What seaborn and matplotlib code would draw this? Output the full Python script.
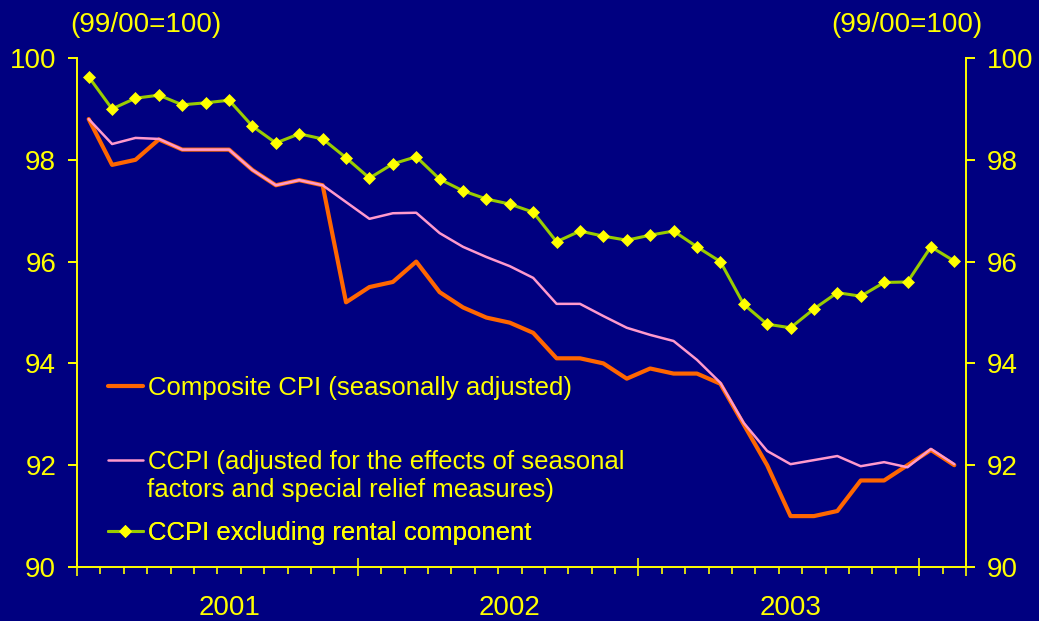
import numpy as np
import pandas as pd
import matplotlib
matplotlib.use("Agg")
import matplotlib.pyplot as plt
import matplotlib.transforms as mtransforms
from matplotlib.ticker import FixedLocator, NullFormatter
import seaborn as sns

# ---- data (monthly, Jan 2001 - Feb 2004) ----
composite_cpi = [98.8, 97.9, 98.0, 98.4, 98.2, 98.2, 98.2, 97.8, 97.5, 97.6, 97.5, 95.2,
                 95.5, 95.6, 96.0, 95.4, 95.1, 94.9, 94.8, 94.6, 94.1, 94.1, 94.0, 93.7,
                 93.9, 93.8, 93.8, 93.6, 92.8, 92.0, 91.0, 91.0, 91.1, 91.7, 91.7, 92.0,
                 92.3, 92.0]
ccpi_adjusted = [98.8, 98.31, 98.43, 98.41, 98.2, 98.2, 98.2, 97.8, 97.5, 97.6, 97.5, 97.17,
                 96.84, 96.95, 96.96, 96.56, 96.29, 96.09, 95.91, 95.68, 95.17, 95.17, 94.93, 94.70,
                 94.56, 94.44, 94.07, 93.62, 92.83, 92.28, 92.02, 92.10, 92.18, 91.98, 92.06, 91.96,
                 92.32, 92.02]
ccpi_ex_rent = [99.63, 99.0, 99.21, 99.27, 99.08, 99.12, 99.17, 98.66, 98.33, 98.51, 98.41, 98.04,
                97.64, 97.92, 98.06, 97.62, 97.39, 97.23, 97.13, 96.97, 96.39, 96.60, 96.50, 96.42,
                96.52, 96.60, 96.29, 96.0, 95.16, 94.77, 94.70, 95.07, 95.39, 95.32, 95.59, 95.60,
                96.29, 96.01]
series_labels = ["Composite CPI (seasonally adjusted)",
                 "CCPI (adjusted for the effects of seasonal",
                 "factors and special relief measures)",
                 "CCPI excluding rental component"]
years = ["2001", "2002", "2003"]
y_ticks = [90, 92, 94, 96, 98, 100]
units_label = "(99/00=100)"

n = len(composite_cpi)
month_pos = np.arange(n) + 0.5
df = pd.DataFrame({"x": month_pos, "cpi": composite_cpi,
                   "adj": ccpi_adjusted, "exr": ccpi_ex_rent})

NAVY = "#000080"
YELLOW = "#FFFF00"
ORANGE = "#FF6600"
PINK = "#FF99CC"
GREEN = "#99CC00"

sns.set_style("white")
plt.rcParams["font.family"] = ["Liberation Sans", "DejaVu Sans"]

fig = plt.figure(figsize=(10.39, 6.21), dpi=100, facecolor=NAVY)
ax = fig.add_axes([77/1039, 1-567/621, (966-77)/1039, (567-58)/621])
ax.set_facecolor(NAVY)

sns.lineplot(data=df, x="x", y="cpi", ax=ax, color=ORANGE, linewidth=3.0)
sns.lineplot(data=df, x="x", y="adj", ax=ax, color=PINK, linewidth=1.8)
sns.lineplot(data=df, x="x", y="exr", ax=ax, color=GREEN, linewidth=2.2,
             marker="D", markersize=6, markerfacecolor=YELLOW,
             markeredgecolor=YELLOW, markeredgewidth=0.5)

ax.set_xlim(0, n)
ax.set_ylim(90, 100)
ax.set_xlabel("")
ax.set_ylabel("")

for s in ["left", "right", "bottom"]:
    ax.spines[s].set_visible(True)
    ax.spines[s].set_color(YELLOW)
    ax.spines[s].set_linewidth(1.4)
ax.spines["top"].set_visible(False)

ax.set_yticks(y_ticks)
ax.set_yticklabels([str(t) for t in y_ticks])
ax.tick_params(axis="y", which="major", left=True, right=True, labelleft=True,
               labelright=True, direction="out", length=6.5, width=1.4,
               color=YELLOW, labelcolor=YELLOW, labelsize=20, pad=8.5)

major_x = [0, 12, 24, 36, n]
ax.xaxis.set_major_locator(FixedLocator(major_x))
ax.xaxis.set_major_formatter(NullFormatter())
ax.xaxis.set_minor_locator(FixedLocator(list(range(n + 1))))
ax.tick_params(axis="x", which="major", direction="inout", length=13, width=1.2,
               color=YELLOW, bottom=True)
ax.tick_params(axis="x", which="minor", direction="out", length=5, width=1.2,
               color=YELLOW, bottom=True)

trans = mtransforms.blended_transform_factory(ax.transData, ax.transAxes)
for i, yr in enumerate(years):
    ax.text(6.5 + 12 * i, -0.08, yr, transform=trans, ha="center", va="center",
            color=YELLOW, fontsize=20)

fig.text(146/1039, 1-25/621, units_label, ha="center", va="center", color=YELLOW, fontsize=20)
fig.text(907/1039, 1-25/621, units_label, ha="center", va="center", color=YELLOW, fontsize=20)

lines = ax.get_lines()
leg_pos = [(0.0349, 0.3517), (0.0349, 0.2063), (0.0349, 0.0668)]
leg_texts = [series_labels[0], series_labels[1], series_labels[3]]
for h, pos, lab in zip(lines[:3], leg_pos, leg_texts):
    lg = ax.legend([h], [lab], loc="center left", bbox_to_anchor=pos,
                   frameon=False, borderpad=0, borderaxespad=0,
                   handlelength=1.35, handletextpad=0.2, fontsize=18.5,
                   labelcolor=YELLOW)
    ax.add_artist(lg)
ax.text(0.0787, 0.1513, series_labels[2], transform=ax.transAxes, ha="left",
        va="center", color=YELLOW, fontsize=18.5)

fig.savefig("out.png", dpi=100, facecolor=NAVY)
